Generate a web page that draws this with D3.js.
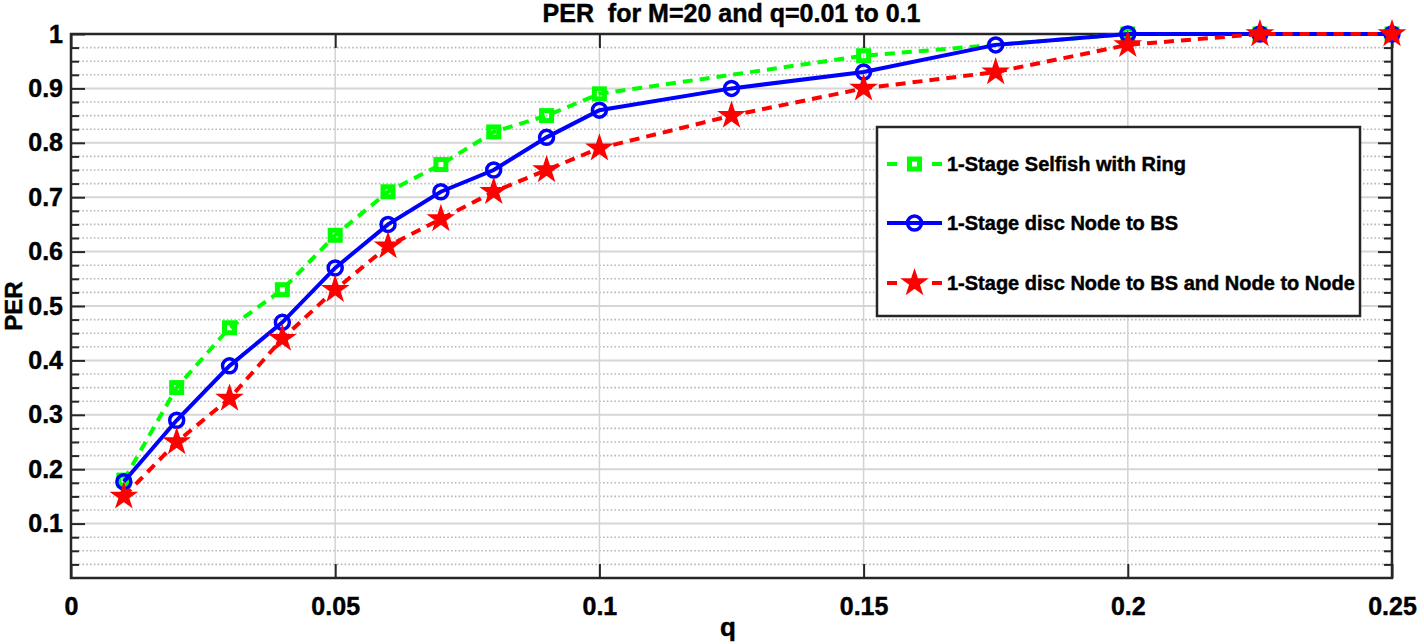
<!DOCTYPE html>
<html><head><meta charset="utf-8">
<script src="https://cdn.jsdelivr.net/npm/d3@7"></script>
<style>
body{margin:0;background:#fff}
svg{display:block}
text{font-family:"Liberation Sans",Arial,Helvetica,sans-serif;font-weight:bold;fill:#000;stroke:#000;stroke-width:0.45px}
</style>
</head><body>
<svg id="c" width="1424" height="644"></svg>
<script>
// ---- data ----
const title = "PER  for M=20 and q=0.01 to 0.1";
const xLabel = "q";
const yLabel = "PER";
const xTicks = [0, 0.05, 0.1, 0.15, 0.2, 0.25];
const xTickLabels = ["0", "0.05", "0.1", "0.15", "0.2", "0.25"];
const yTicks = [0.1, 0.2, 0.3, 0.4, 0.5, 0.6, 0.7, 0.8, 0.9, 1];
const yTickLabels = ["0.1", "0.2", "0.3", "0.4", "0.5", "0.6", "0.7", "0.8", "0.9", "1"];
const yMinorTicks = [0.025, 0.05, 0.075, 0.125, 0.15, 0.175, 0.225, 0.25, 0.275, 0.325, 0.35, 0.375,
  0.425, 0.45, 0.475, 0.525, 0.55, 0.575, 0.625, 0.65, 0.675, 0.725, 0.75, 0.775,
  0.825, 0.85, 0.875, 0.925, 0.95, 0.975];

const seriesNames = ["1-Stage Selfish with Ring", "1-Stage disc Node to BS", "1-Stage disc Node to BS and Node to Node"];

const greenX = [0.01, 0.02, 0.03, 0.04, 0.05, 0.06, 0.07, 0.08, 0.09, 0.1, 0.15, 0.2, 0.225, 0.25];
const greenY = [0.18, 0.35, 0.46, 0.53, 0.63, 0.71, 0.76, 0.82, 0.85, 0.89, 0.96, 1.0, 1.0, 1.0];

const blueX = [0.01, 0.02, 0.03, 0.04, 0.05, 0.06, 0.07, 0.08, 0.09, 0.1, 0.125, 0.15, 0.175, 0.2, 0.225, 0.25];
const blueY = [0.177, 0.29, 0.39, 0.47, 0.57, 0.65, 0.71, 0.75, 0.81, 0.86, 0.90, 0.93, 0.98, 1.0, 1.0, 1.0];

const redX = [0.01, 0.02, 0.03, 0.04, 0.05, 0.06, 0.07, 0.08, 0.09, 0.1, 0.125, 0.15, 0.175, 0.2, 0.225, 0.25];
const redY = [0.15, 0.25, 0.33, 0.44, 0.53, 0.61, 0.66, 0.71, 0.75, 0.79, 0.85, 0.90, 0.93, 0.98, 1.0, 1.0];

// ---- layout ----
const L = 71, R = 1392, T = 34, B = 578;
const svg = d3.select("#c");
const x = d3.scaleLinear().domain([0, 0.25]).range([L, R]);
const y = d3.scaleLinear().domain([0, 1]).range([B, T]);
const axisColor = "#262626";

// grid
const g = svg.append("g");
g.selectAll(".minor").data(yMinorTicks).join("line")
  .attr("x1", L).attr("x2", R).attr("y1", d => y(d)).attr("y2", d => y(d))
  .attr("stroke", "#b8b8b8").attr("stroke-width", 1.6).attr("stroke-dasharray", "1.6,2.2");
g.selectAll(".major").data(yTicks).join("line")
  .attr("x1", L).attr("x2", R).attr("y1", d => y(d)).attr("y2", d => y(d))
  .attr("stroke", "#d6d6d6").attr("stroke-width", 2);
g.selectAll(".vmaj").data(xTicks).join("line")
  .attr("x1", d => x(d)).attr("x2", d => x(d)).attr("y1", T).attr("y2", B)
  .attr("stroke", "#d3d3d3").attr("stroke-width", 1.5);

// axes with d3 axis generators (ticks inward)
const yAxisL = d3.axisLeft(y).tickValues(yTicks).tickFormat((d, i) => yTickLabels[i]).tickSizeInner(-14).tickSizeOuter(0).tickPadding(8);
const yAxisLMinor = d3.axisLeft(y).tickValues(yMinorTicks).tickFormat("").tickSizeInner(-8).tickSizeOuter(0);
const yAxisR = d3.axisRight(y).tickValues(yTicks).tickFormat("").tickSizeInner(-14).tickSizeOuter(0);
const yAxisRMinor = d3.axisRight(y).tickValues(yMinorTicks).tickFormat("").tickSizeInner(-8).tickSizeOuter(0);
const xAxisB = d3.axisBottom(x).tickValues(xTicks).tickFormat((d, i) => xTickLabels[i]).tickSizeInner(-14).tickSizeOuter(0).tickPadding(19);
const xAxisT = d3.axisTop(x).tickValues(xTicks).tickFormat("").tickSizeInner(-14).tickSizeOuter(0);

function styleAxis(sel, fs) {
  sel.select(".domain").remove();
  sel.selectAll(".tick line").attr("stroke", axisColor).attr("stroke-width", 2);
  sel.selectAll(".tick text").attr("font-size", fs).attr("fill", "#000")
    .attr("font-family", '"Liberation Sans",Arial,sans-serif').attr("font-weight", "bold");
}
styleAxis(svg.append("g").attr("transform", `translate(${L},0)`).call(yAxisL), 25);
styleAxis(svg.append("g").attr("transform", `translate(${L},0)`).call(yAxisLMinor), 25);
styleAxis(svg.append("g").attr("transform", `translate(${R},0)`).call(yAxisR), 25);
styleAxis(svg.append("g").attr("transform", `translate(${R},0)`).call(yAxisRMinor), 25);
styleAxis(svg.append("g").attr("transform", `translate(0,${B})`).call(xAxisB), 25);
styleAxis(svg.append("g").attr("transform", `translate(0,${T})`).call(xAxisT), 25);

svg.append("rect").attr("x", L).attr("y", T).attr("width", R - L).attr("height", B - T)
  .attr("fill", "none").attr("stroke", axisColor).attr("stroke-width", 2.5);

// labels
svg.append("text").attr("x", (L + R) / 2).attr("y", 22).attr("text-anchor", "middle")
  .attr("font-size", 25).style("white-space", "pre").text(title);
svg.append("text").attr("x", 728).attr("y", 636).attr("text-anchor", "middle")
  .attr("font-size", 26).text(xLabel);
svg.append("text").attr("transform", `translate(22,${(T + B) / 2}) rotate(-90)`).attr("text-anchor", "middle")
  .attr("font-size", 24).text(yLabel);

// series
const starPath = d3.symbol().type(d3.symbolStar).size(180)();
function drawMarker(sel, type, color) {
  if (type === "square") {
    sel.append("rect").attr("x", -5).attr("y", -5).attr("width", 10).attr("height", 10)
      .attr("fill", "none").attr("stroke", color).attr("stroke-width", 5);
  } else if (type === "circle") {
    sel.append("circle").attr("r", 7).attr("fill", "none").attr("stroke", color).attr("stroke-width", 3.5);
  } else {
    sel.append("path").attr("d", starPath).attr("fill", color).attr("stroke", color).attr("stroke-width", 1.5);
  }
}
const series = [
  { xs: greenX, ys: greenY, color: "#00ff00", dash: "10,7", marker: "square", name: seriesNames[0] },
  { xs: blueX, ys: blueY, color: "#0000ff", dash: null, marker: "circle", name: seriesNames[1] },
  { xs: redX, ys: redY, color: "#ff0000", dash: "10,7", marker: "star", name: seriesNames[2] }
];
const line = d3.line().x(d => x(d[0])).y(d => y(d[1]));
series.forEach(s => {
  const pts = s.xs.map((v, i) => [v, s.ys[i]]);
  const sg = svg.append("g");
  sg.append("path").attr("d", line(pts)).attr("fill", "none").attr("stroke", s.color)
    .attr("stroke-width", 4).attr("stroke-dasharray", s.dash);
  sg.selectAll("g.m").data(pts).join("g").attr("transform", d => `translate(${x(d[0])},${y(d[1])})`)
    .each(function () { drawMarker(d3.select(this), s.marker, s.color); });
});

// legend
const lg = svg.append("g");
lg.append("rect").attr("x", 877).attr("y", 127).attr("width", 483).attr("height", 189)
  .attr("fill", "#fff").attr("stroke", axisColor).attr("stroke-width", 2.5);
const rowY = [164, 223, 283];
series.forEach((s, i) => {
  const ry = rowY[i];
  lg.append("line").attr("x1", 887).attr("x2", 942).attr("y1", ry).attr("y2", ry)
    .attr("stroke", s.color).attr("stroke-width", 4).attr("stroke-dasharray", s.dash ? "10,35" : null);
  const mg = lg.append("g").attr("transform", `translate(914.5,${ry})`);
  drawMarker(mg, s.marker, s.color);
  lg.append("text").attr("x", 947).attr("y", ry + 7).attr("font-size", 20).text(s.name);
});
</script>
</body></html>
